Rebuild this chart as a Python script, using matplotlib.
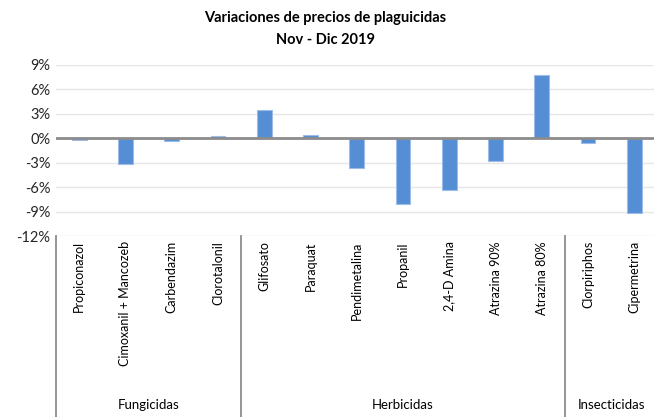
import matplotlib
matplotlib.use("Agg")
import matplotlib.pyplot as plt
import numpy as np

categories = ["Propiconazol", "Cimoxanil + Mancozeb", "Carbendazim", "Clorotalonil",
              "Glifosato", "Paraquat", "Pendimetalina", "Propanil", "2,4-D Amina",
              "Atrazina 90%", "Atrazina 80%", "Clorpiriphos", "Cipermetrina"]
values = [-0.25, -3.1, -0.35, 0.3, 3.5, 0.4, -3.7, -8.1, -6.3, -2.8, 7.8, -0.6, -9.2]
groups = ["Fungicidas", "Herbicidas", "Insecticidas"]
group_sizes = [4, 7, 2]
yticks = [-12, -9, -6, -3, 0, 3, 6, 9]

plt.rcParams['font.family'] = ['Lato', 'DejaVu Sans']

W, H = 654, 417
fig = plt.figure(figsize=(W/100, H/100), dpi=100)
left, right_px = 56, 657.5
top_px, bot_px = 65, 236
ax = fig.add_axes([left/W, 1-bot_px/H, (right_px-left)/W, (bot_px-top_px)/H])

x = np.arange(len(categories))
ax.bar(x, values, width=0.32, color="#558ED5", edgecolor="#9DBDE8", linewidth=0.8, zorder=3)
ax.set_xlim(-0.5, len(categories)-0.5)
ax.set_ylim(-12, 9)
ax.set_yticks(yticks)
ax.set_yticklabels([f"{v}%" for v in yticks], fontsize=10.5, color="#262626")
ax.tick_params(axis='y', length=0, pad=4)
ax.set_xticks([])
for s in ax.spines.values():
    s.set_visible(False)
ax.grid(axis='y', color="#E6E6E6", linewidth=1, zorder=0)
ax.axhline(0, color="#8C8C8C", linewidth=2, zorder=4)

xt = ax.get_xaxis_transform()
# category labels
for i, c in enumerate(categories):
    ax.text(i, -0.03, c, rotation=90, ha='center', va='top', fontsize=9,
            color="#000000", transform=xt)
# group separators and labels
ext = -(H - bot_px) / (bot_px - top_px)
start = 0
bounds = [0]
for g, n in zip(groups, group_sizes):
    mid = start + n/2 - 0.5
    ax.text(mid, ext + 0.07, g, ha='center', va='center', fontsize=9.5, transform=xt)
    start += n
    bounds.append(start)
for b in bounds[:-1]:
    ax.plot([b-0.5, b-0.5], [0, ext], transform=xt, color="#8C8C8C", linewidth=1.3,
            clip_on=False)

fig.text(325/W, 1-18/H, "Variaciones de precios de plaguicidas", ha='center', va='center',
         fontsize=10.5, fontweight='bold')
fig.text(325/W, 1-40/H, "Nov - Dic 2019", ha='center', va='center',
         fontsize=10.5, fontweight='bold')

fig.savefig("out.png", dpi=100)
